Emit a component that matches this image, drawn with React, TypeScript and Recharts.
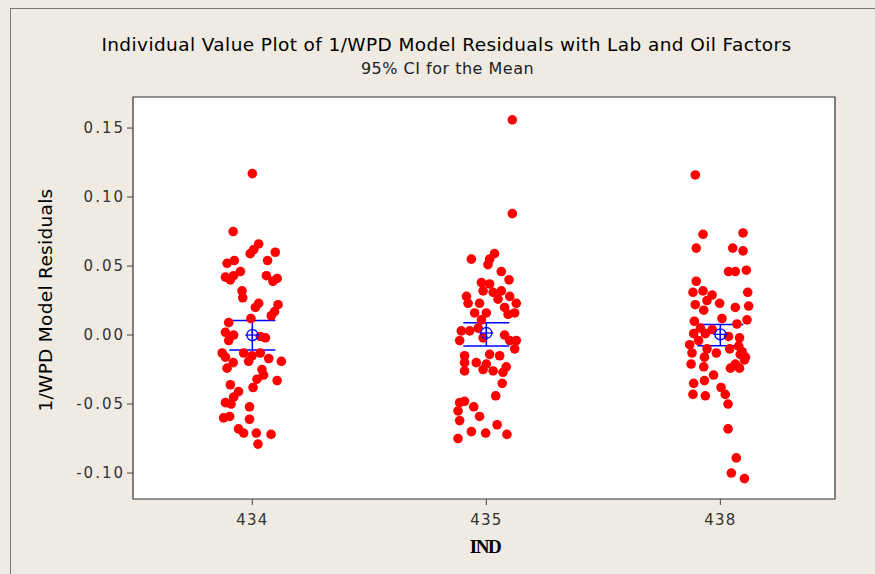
import React from "react";
import {
  ScatterChart,
  Scatter,
  XAxis,
  YAxis,
  ZAxis,
  CartesianGrid,
  ReferenceArea,
  ErrorBar,
} from "recharts";

// IND categories and their tick positions
const indLabels = ["434", "435", "438"];
const indTicks = [1, 2, 3];
const yTicks = [-0.1, -0.05, 0, 0.05, 0.1, 0.15];

// [horizontal jitter (category units), residual]
const res434: [number, number][] = [
  [0.0, 0.117], [-0.082, 0.075], [0.027, 0.066], [0.006, 0.062], [-0.009, 0.059],
  [0.098, 0.06], [0.065, 0.054], [-0.077, 0.054], [-0.108, 0.052], [-0.051, 0.046],
  [-0.08, 0.043], [-0.115, 0.042], [-0.094, 0.04], [0.06, 0.043], [0.106, 0.041],
  [0.088, 0.039], [-0.044, 0.032], [-0.041, 0.027], [0.027, 0.023], [0.013, 0.02],
  [0.11, 0.022], [0.095, 0.017], [0.081, 0.014], [-0.006, 0.012], [-0.101, 0.009],
  [-0.115, 0.002], [-0.08, 0.0], [-0.101, -0.004], [0.034, -0.001], [0.056, -0.002],
  [-0.129, -0.013], [-0.037, -0.013], [-0.001, -0.015], [0.034, -0.013], [-0.115, -0.016],
  [-0.082, -0.02], [-0.108, -0.024], [-0.016, -0.019], [0.07, -0.017], [0.124, -0.019],
  [0.041, -0.025], [0.048, -0.029], [0.02, -0.032], [0.106, -0.033], [0.003, -0.038],
  [-0.094, -0.036], [-0.059, -0.041], [-0.08, -0.045], [-0.115, -0.049], [-0.091, -0.05],
  [-0.012, -0.052], [-0.123, -0.06], [-0.097, -0.059], [-0.012, -0.061], [-0.059, -0.068],
  [-0.037, -0.071], [0.017, -0.071], [0.08, -0.072], [0.024, -0.079],
];

const res435: [number, number][] = [
  [0.111, 0.156], [0.111, 0.088], [-0.064, 0.055], [0.035, 0.059], [0.014, 0.055],
  [0.007, 0.051], [0.064, 0.046], [-0.021, 0.038], [0.014, 0.037], [0.097, 0.04],
  [-0.014, 0.032], [0.029, 0.031], [0.064, 0.032], [-0.085, 0.028], [0.1, 0.028],
  [0.05, 0.026], [-0.029, 0.023], [0.128, 0.023], [-0.078, 0.023], [0.078, 0.02],
  [-0.05, 0.016], [0.0, 0.016], [0.121, 0.016], [0.093, 0.015], [-0.021, 0.011],
  [-0.107, 0.003], [-0.071, 0.003], [-0.035, 0.005], [-0.114, -0.004], [-0.014, -0.002],
  [0.078, 0.0], [0.1, -0.004], [0.128, -0.004], [0.121, -0.01], [-0.093, -0.015],
  [0.014, -0.014], [0.057, -0.015], [-0.093, -0.02], [-0.043, -0.02], [0.0, -0.021],
  [0.085, -0.023], [-0.093, -0.026], [-0.014, -0.025], [0.029, -0.026], [0.071, -0.027],
  [0.068, -0.035], [0.04, -0.044], [-0.114, -0.049], [-0.093, -0.048], [-0.054, -0.052],
  [-0.121, -0.055], [-0.029, -0.059], [-0.114, -0.062], [0.046, -0.065], [-0.064, -0.07],
  [-0.003, -0.071], [0.088, -0.072], [-0.121, -0.075],
];

const res438: [number, number][] = [
  [-0.107, 0.116], [-0.074, 0.073], [0.097, 0.074], [-0.103, 0.063], [0.053, 0.063],
  [0.097, 0.061], [0.035, 0.046], [0.064, 0.046], [0.111, 0.047], [-0.103, 0.039],
  [-0.117, 0.031], [-0.074, 0.032], [-0.035, 0.029], [0.117, 0.031], [-0.003, 0.023],
  [0.064, 0.02], [0.121, 0.021], [-0.107, 0.022], [-0.071, 0.018], [-0.057, 0.025],
  [0.114, 0.011], [-0.111, 0.01], [0.007, 0.012], [0.071, 0.008], [-0.085, 0.005],
  [-0.035, 0.004], [-0.114, 0.001], [-0.064, 0.001], [0.035, -0.001], [0.082, -0.002],
  [-0.131, -0.007], [-0.093, -0.004], [0.078, -0.008], [-0.121, -0.013], [-0.057, -0.01],
  [-0.017, -0.013], [0.04, -0.01], [0.085, -0.014], [-0.125, -0.021], [-0.068, -0.016],
  [-0.071, -0.023], [0.043, -0.024], [0.064, -0.021], [0.103, -0.018], [-0.029, -0.029],
  [-0.114, -0.035], [-0.068, -0.033], [0.003, -0.038], [-0.117, -0.043], [-0.064, -0.044],
  [0.021, -0.043], [0.033, -0.05], [0.033, -0.068], [0.068, -0.089], [0.047, -0.1],
  [0.103, -0.104], [0.093, -0.012], [0.107, -0.016], [0.082, -0.024],
];

// mean and 95% CI for each IND
const means = [0.0, 0.0015, 0.0005];
const ciLow = [-0.0109, -0.008, -0.0077];
const ciHigh = [0.0106, 0.009, 0.0077];

const groups = [res434, res435, res438];
const points = groups.flatMap((rows, i) =>
  rows.map(([j, v]) => ({ x: indTicks[i] + j, y: v }))
);
const meanData = means.map((m, i) => ({
  x: indTicks[i],
  y: m,
  err: [m - ciLow[i], ciHigh[i] - m],
}));

const X_DOMAIN: [number, number] = [0.49, 3.49];
const Y_DOMAIN: [number, number] = [-0.1188, 0.1725];
const FONT = "'DejaVu Sans', Tahoma, sans-serif";

const Dot = (p: any) => <circle cx={p.cx} cy={p.cy} r={4.8} fill="#ff0000" />;

const MeanMark = (p: any) => (
  <g stroke="#0000ff" strokeWidth={1.3} fill="none">
    <circle cx={p.cx} cy={p.cy} r={5.5} />
    <line x1={p.cx - 7} y1={p.cy} x2={p.cx + 7} y2={p.cy} />
    <line x1={p.cx} y1={p.cy - 7} x2={p.cx} y2={p.cy + 7} />
  </g>
);

export default function App() {
  return (
    <div
      style={{
        position: "absolute",
        left: 0,
        top: 0,
        width: 875,
        height: 574,
        background: "#efebe2",
        fontFamily: FONT,
        overflow: "hidden",
      }}
    >
      <div
        style={{
          position: "absolute",
          left: 10,
          top: 8,
          width: 900,
          height: 600,
          borderTop: "1px solid #7a7a7a",
          borderLeft: "1px solid #7a7a7a",
        }}
      />
      <div
        style={{
          position: "absolute",
          left: 0,
          width: 893,
          top: 34,
          textAlign: "center",
          fontSize: 18.5,
          letterSpacing: 0.4,
          color: "#000",
        }}
      >
        Individual Value Plot of 1/WPD Model Residuals with Lab and Oil Factors
      </div>
      <div
        style={{
          position: "absolute",
          left: 0,
          width: 895,
          top: 59,
          textAlign: "center",
          fontSize: 16,
          letterSpacing: 0.5,
          color: "#222",
        }}
      >
        95% CI for the Mean
      </div>
      <div
        style={{
          position: "absolute",
          left: 45,
          top: 300,
          transform: "translate(-50%, -50%) rotate(-90deg)",
          whiteSpace: "nowrap",
          fontSize: 18.5,
          letterSpacing: 0.3,
          color: "#000",
        }}
      >
        1/WPD Model Residuals
      </div>
      <div
        style={{
          position: "absolute",
          left: 485,
          top: 547,
          transform: "translate(-50%, -50%)",
          fontFamily: "'Liberation Serif', serif",
          fontWeight: "bold",
          fontSize: 19,
          letterSpacing: -1.5,
          color: "#000",
        }}
      >
        IND
      </div>
      <div style={{ position: "absolute", left: 0, top: 0 }}>
        <ScatterChart
          width={875}
          height={574}
          margin={{ top: 97, right: 40, bottom: 45, left: 0 }}
        >
          <CartesianGrid
            fill="#ffffff"
            horizontal={false}
            vertical={false}
          />
          <XAxis
            type="number"
            dataKey="x"
            domain={X_DOMAIN}
            ticks={indTicks}
            tickFormatter={(v: number) => indLabels[indTicks.indexOf(v)] ?? ""}
            allowDataOverflow
            height={30}
            axisLine={false}
            tickSize={6}
            tickLine={{ stroke: "#444" }}
            tick={{ fill: "#333", fontSize: 15, fontFamily: FONT, letterSpacing: 1.2, dy: 7 }}
          />
          <YAxis
            type="number"
            dataKey="y"
            domain={Y_DOMAIN}
            ticks={yTicks}
            tickFormatter={(v: number) => v.toFixed(2)}
            allowDataOverflow
            width={133}
            axisLine={false}
            tickSize={6}
            tickLine={{ stroke: "#444" }}
            tick={{ fill: "#333", fontSize: 15, fontFamily: FONT, letterSpacing: 2 }}
          />
          <ZAxis range={[70, 70]} />
          <ReferenceArea
            x1={X_DOMAIN[0]}
            x2={X_DOMAIN[1]}
            y1={Y_DOMAIN[0]}
            y2={Y_DOMAIN[1]}
            fill="none"
            stroke="#333"
            strokeWidth={1.2}
          />
          <Scatter data={points} shape={Dot} isAnimationActive={false} />
          <Scatter data={meanData} shape={MeanMark} isAnimationActive={false}>
            <ErrorBar
              dataKey="err"
              direction="y"
              width={23}
              stroke="#0000ff"
              strokeWidth={1.5}
              isAnimationActive={false}
            />
          </Scatter>
        </ScatterChart>
      </div>
    </div>
  );
}
